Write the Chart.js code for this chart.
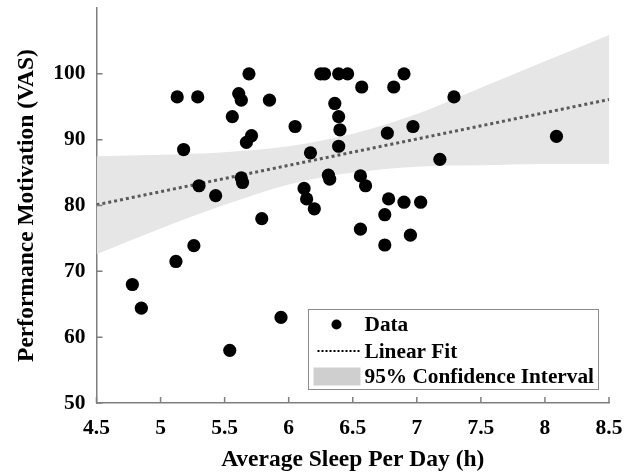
<!DOCTYPE html>
<html>
<head>
<meta charset="utf-8">
<script src="https://cdn.jsdelivr.net/npm/chart.js@4.4.1/dist/chart.umd.min.js"></script>
<style>
  html, body { margin: 0; padding: 0; background: #ffffff; }
  #wrap { width: 639px; height: 476px; }
</style>
</head>
<body>
<div id="wrap"><canvas id="c" width="639" height="476"></canvas></div>
<script>
// ---- Data ----
const sleepHours = [
  4.78, 4.85, 5.12, 5.26, 5.13, 5.29, 5.18, 5.30, 5.43, 5.54,
  5.56, 5.61, 5.63, 5.63, 5.64, 5.67, 5.71, 5.69, 5.79, 5.85,
  5.94, 6.05, 6.12, 6.14, 6.17, 6.20, 6.25, 6.28, 6.31, 6.32,
  6.36, 6.39, 6.40, 6.39, 6.39, 6.46, 6.56, 6.60, 6.56, 6.57,
  6.75, 6.75, 6.77, 6.78, 6.82, 6.90, 6.90, 6.95, 6.97, 7.03,
  7.18, 7.29, 8.09
];
const motivation = [
  68.0, 64.4, 71.5, 73.9, 96.5, 96.5, 88.5, 83.0, 81.5, 58.0,
  93.5, 97.0, 96.0, 84.2, 83.5, 89.6, 90.6, 100.0, 78.0, 96.0,
  63.0, 92.0, 82.6, 81.0, 88.0, 79.5, 100.0, 100.0, 84.6, 84.0,
  95.5, 93.5, 91.5, 89.0, 100.0, 100.0, 84.5, 83.0, 76.4, 98.0,
  78.6, 74.0, 91.0, 81.0, 98.0, 100.0, 80.5, 75.5, 92.0, 80.5,
  87.0, 96.5, 90.5
];
const fitX = [4.5, 8.5];
const fitY = [80.1, 96.1];
const ciX     = [4.5,  5.0,  5.5,  6.0,  6.5,  7.0,  7.5,  8.0,   8.5];
const ciLower = [72.6, 76.5, 80.1, 83.2, 85.0, 85.9, 86.1, 86.3,  86.3];
const ciUpper = [87.5, 87.7, 88.1, 89.0, 90.9, 93.9, 97.9, 101.9, 105.9];
const xTicks = [4.5, 5, 5.5, 6, 6.5, 7, 7.5, 8, 8.5];
const yTicks = [50, 60, 70, 80, 90, 100];
const legendLabels = ['Data', 'Linear Fit', '95% Confidence Interval'];

const FONT = 'Liberation Serif, Times New Roman, serif';
const AXIS_COLOR = '#7f7f7f';
const BAND_COLOR = '#e6e6e6';

const toXY = (xs, ys) => xs.map((x, i) => ({ x: x, y: ys[i] }));

// inward tick marks drawn from the library's scales
const innerTicks = {
  id: 'innerTicks',
  afterDatasetsDraw(chart) {
    const ctx = chart.ctx;
    const xs = chart.scales.x, ys = chart.scales.y;
    const len = 6;
    ctx.save();
    ctx.strokeStyle = AXIS_COLOR;
    ctx.lineWidth = 1.5;
    ctx.beginPath();
    xTicks.forEach(v => {
      const px = xs.getPixelForValue(v);
      ctx.moveTo(px, ys.bottom);
      ctx.lineTo(px, ys.bottom - len);
    });
    yTicks.forEach(v => {
      const py = ys.getPixelForValue(v);
      ctx.moveTo(xs.left, py);
      ctx.lineTo(xs.left + len, py);
    });
    ctx.stroke();
    ctx.restore();
  }
};

// boxed legend inside the plot area
const boxLegend = {
  id: 'boxLegend',
  afterDraw(chart) {
    const ctx = chart.ctx;
    const ca = chart.chartArea;
    const w = 290, h = 80;
    const x0 = Math.round(ca.right - 11 - w) + 0.5;
    const y0 = Math.round(ca.bottom - 14 - h) + 0.5;
    ctx.save();
    ctx.fillStyle = '#ffffff';
    ctx.fillRect(x0, y0, w, h);
    ctx.strokeStyle = '#8c8c8c';
    ctx.lineWidth = 1;
    ctx.strokeRect(x0, y0, w, h);

    const rowY = [y0 + 15, y0 + 41.5, y0 + 67];
    const textX = x0 + 56;
    // Data marker
    ctx.fillStyle = '#000000';
    ctx.beginPath();
    ctx.arc(x0 + 28, rowY[0], 5, 0, Math.PI * 2);
    ctx.fill();
    // Linear Fit sample
    ctx.strokeStyle = '#000000';
    ctx.lineWidth = 2;
    ctx.setLineDash([2, 2]);
    ctx.beginPath();
    ctx.moveTo(x0 + 9, rowY[1]);
    ctx.lineTo(x0 + 51, rowY[1]);
    ctx.stroke();
    ctx.setLineDash([]);
    // CI patch
    ctx.fillStyle = '#cfcfcf';
    ctx.fillRect(x0 + 5, rowY[2] - 9, 47, 18);

    ctx.fillStyle = '#000000';
    ctx.font = 'bold 21.3px ' + FONT;
    ctx.textBaseline = 'middle';
    ctx.textAlign = 'left';
    legendLabels.forEach((t, i) => ctx.fillText(t, textX, rowY[i] + 1));
    ctx.restore();
  }
};

new Chart(document.getElementById('c'), {
  type: 'scatter',
  data: {
    datasets: [
      {
        label: 'CI lower',
        data: toXY(ciX, ciLower),
        showLine: true,
        borderWidth: 0,
        borderColor: 'rgba(0,0,0,0)',
        pointRadius: 0,
        fill: false,
        cubicInterpolationMode: 'monotone',
        order: 3
      },
      {
        label: legendLabels[2],
        data: toXY(ciX, ciUpper),
        showLine: true,
        borderWidth: 0,
        borderColor: 'rgba(0,0,0,0)',
        backgroundColor: BAND_COLOR,
        pointRadius: 0,
        fill: '-1',
        cubicInterpolationMode: 'monotone',
        order: 2
      },
      {
        label: legendLabels[1],
        data: toXY(fitX, fitY),
        showLine: true,
        borderColor: '#5a5a5a',
        borderWidth: 3,
        borderDash: [3, 3],
        pointRadius: 0,
        fill: false,
        order: 1
      },
      {
        label: legendLabels[0],
        data: toXY(sleepHours, motivation),
        pointRadius: 6.6,
        pointHoverRadius: 6.6,
        pointBackgroundColor: '#000000',
        pointBorderWidth: 0,
        borderColor: '#000000',
        order: 0
      }
    ]
  },
  options: {
    responsive: false,
    animation: false,
    events: [],
    layout: { padding: { left: 0, right: 30, top: 8, bottom: 0 } },
    plugins: {
      legend: { display: false },
      tooltip: { enabled: false }
    },
    scales: {
      x: {
        type: 'linear',
        min: 4.5,
        max: 8.5,
        afterBuildTicks: s => { s.ticks = xTicks.map(v => ({ value: v })); },
        afterFit: s => { s.height = 73; s.paddingLeft = 0; s.paddingRight = 0; },
        grid: { display: false, drawTicks: false },
        border: { display: true, color: AXIS_COLOR, width: 1.5 },
        ticks: {
          color: '#000000',
          padding: 13,
          maxRotation: 0,
          autoSkip: false,
          callback: v => String(v),
          font: { family: FONT, size: 21.5, weight: 'bold' }
        },
        title: {
          display: true,
          text: 'Average Sleep Per Day (h)',
          color: '#000000',
          padding: { top: 0, bottom: 2 },
          font: { family: FONT, size: 23.5, weight: 'bold' }
        }
      },
      y: {
        type: 'linear',
        min: 50,
        max: 110,
        afterBuildTicks: s => { s.ticks = yTicks.map(v => ({ value: v })); },
        afterFit: s => { s.width = 96.5; s.paddingTop = 0; s.paddingBottom = 0; },
        grid: { display: false, drawTicks: false },
        border: { display: true, color: AXIS_COLOR, width: 1.5 },
        ticks: {
          color: '#000000',
          padding: 11,
          autoSkip: false,
          callback: v => String(v),
          font: { family: FONT, size: 21.5, weight: 'bold' }
        },
        title: {
          display: true,
          text: 'Performance Motivation (VAS)',
          color: '#000000',
          padding: { top: 13, bottom: 0 },
          font: { family: FONT, size: 23.5, weight: 'bold' }
        }
      }
    }
  },
  plugins: [innerTicks, boxLegend]
});
</script>
</body>
</html>
